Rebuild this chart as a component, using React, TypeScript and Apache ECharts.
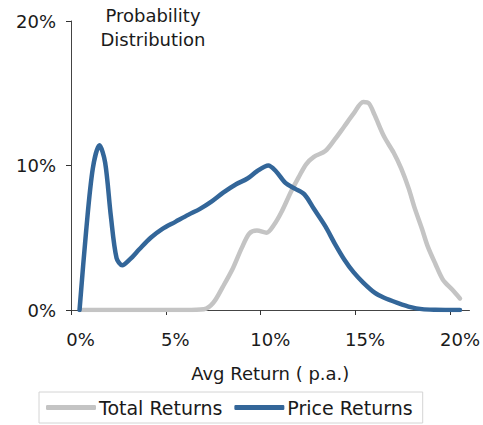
import React, { useEffect, useRef } from "react";
import * as echarts from "echarts";

const seriesNames = ["Total Returns", "Price Returns"];
const xTickValues = [0, 5, 10, 15, 20];
const yTickValues = [0, 10, 20];

// [avg return %, probability %]
const totalReturns: [number, number][] = [
  [0.5, 0], [2, 0], [4, 0], [6, 0], [7.0, 0.05], [7.5, 0.5], [8.0, 1.6], [8.5, 2.8],
  [9.0, 4.3], [9.4, 5.3], [9.8, 5.5], [10.3, 5.35], [10.7, 5.9], [11.1, 6.8],
  [11.6, 8.2], [12.0, 9.2], [12.4, 10.1], [12.8, 10.6], [13.4, 11.0], [13.9, 11.8],
  [14.4, 12.7], [14.9, 13.6], [15.4, 14.4], [15.7, 14.3], [16.0, 13.5], [16.5, 12.0],
  [17.0, 10.9], [17.4, 9.8], [17.8, 8.4], [18.1, 7.1], [18.5, 5.6], [18.8, 4.4],
  [19.2, 3.2], [19.6, 2.1], [20.1, 1.4], [20.5, 0.8]
];

const priceReturns: [number, number][] = [
  [0.45, 0], [0.8, 5.5], [1.15, 9.8], [1.5, 11.4], [1.8, 10.2], [2.1, 6.5], [2.4, 3.6],
  [2.7, 3.1], [3.1, 3.5], [3.6, 4.2], [4.2, 5.0], [4.8, 5.6], [5.5, 6.1], [6.2, 6.6],
  [6.8, 7.0], [7.4, 7.5], [8.0, 8.1], [8.7, 8.7], [9.3, 9.1], [9.8, 9.6], [10.4, 10.0],
  [10.8, 9.6], [11.3, 8.8], [11.8, 8.4], [12.3, 8.0], [12.8, 7.0], [13.4, 5.8],
  [13.9, 4.6], [14.4, 3.5], [14.9, 2.6], [15.4, 1.9], [16.0, 1.2], [16.5, 0.85],
  [17.2, 0.5], [17.9, 0.2], [18.5, 0.06], [19.2, 0.02], [20.5, 0]
];

const FONT = "DejaVu Sans";
const TEXT = "#1a1a1a";
const FS = 18;

export default function App() {
  const ref = useRef<HTMLDivElement>(null);
  useEffect(() => {
    if (!ref.current) return;
    const chart = echarts.init(ref.current, undefined, { renderer: "svg" });
    chart.setOption({
      animation: false,
      backgroundColor: "#ffffff",
      textStyle: { fontFamily: FONT, color: TEXT },
      grid: { left: 71, top: 21, right: 10, bottom: 115, containLabel: false },
      graphic: [
        {
          type: "text",
          x: 153,
          y: 3,
          style: {
            text: "Probability\nDistribution",
            font: `${FS}px "${FONT}"`,
            fill: TEXT,
            textAlign: "center",
            textVerticalAlign: "top",
            lineHeight: 24,
          },
        },
      ],
      legend: {
        left: 39,
        top: 392,
        padding: [6, 10, 6, 7],
        itemWidth: 50,
        itemHeight: 5,
        itemGap: 12,
        borderColor: "#d4d4d4",
        borderWidth: 1,
        icon: "roundRect",
        data: seriesNames,
        textStyle: { fontFamily: FONT, fontSize: 19, color: TEXT, padding: [0, 0, 0, -2] },
      },
      xAxis: {
        type: "value",
        min: 0,
        max: 21,
        interval: 5,
        name: "Avg Return ( p.a.)",
        nameLocation: "middle",
        nameGap: 54,
        nameTextStyle: { fontFamily: FONT, fontSize: FS, color: TEXT },
        axisLine: { show: true, onZero: false, lineStyle: { color: "#444", width: 1 } },
        axisTick: { show: true, length: 5, customValues: xTickValues, lineStyle: { color: "#333" } },
        axisLabel: {
          customValues: xTickValues,
          margin: 20,
          fontFamily: FONT,
          fontSize: FS,
          color: TEXT,
          padding: [0, 0, 0, 19],
          formatter: (v: number) => `${v}%`,
        },
        splitLine: { show: false },
      },
      yAxis: {
        type: "value",
        min: 0,
        max: 20,
        interval: 10,
        axisLine: { show: true, lineStyle: { color: "#444", width: 1 } },
        axisTick: { show: true, length: 5, inside: false, customValues: yTickValues, lineStyle: { color: "#333" } },
        axisLabel: {
          margin: 15,
          fontFamily: FONT,
          fontSize: FS,
          color: TEXT,
          formatter: (v: number) => `${v}%`,
        },
        splitLine: { show: false },
      },
      series: [
        {
          name: seriesNames[0],
          type: "line",
          data: totalReturns,
          smooth: 0.3,
          showSymbol: false,
          symbol: "none",
          lineStyle: { color: "#c4c4c4", width: 4.5, cap: "round", join: "round" },
          itemStyle: { color: "#c4c4c4" },
          z: 2,
        },
        {
          name: seriesNames[1],
          type: "line",
          data: priceReturns,
          smooth: 0.3,
          showSymbol: false,
          symbol: "none",
          lineStyle: { color: "#336699", width: 4.5, cap: "round", join: "round" },
          itemStyle: { color: "#336699" },
          z: 3,
        },
      ],
    });
    return () => chart.dispose();
  }, []);
  return <div ref={ref} style={{ width: 483, height: 425, position: "absolute", left: 0, top: 0 }} />;
}
